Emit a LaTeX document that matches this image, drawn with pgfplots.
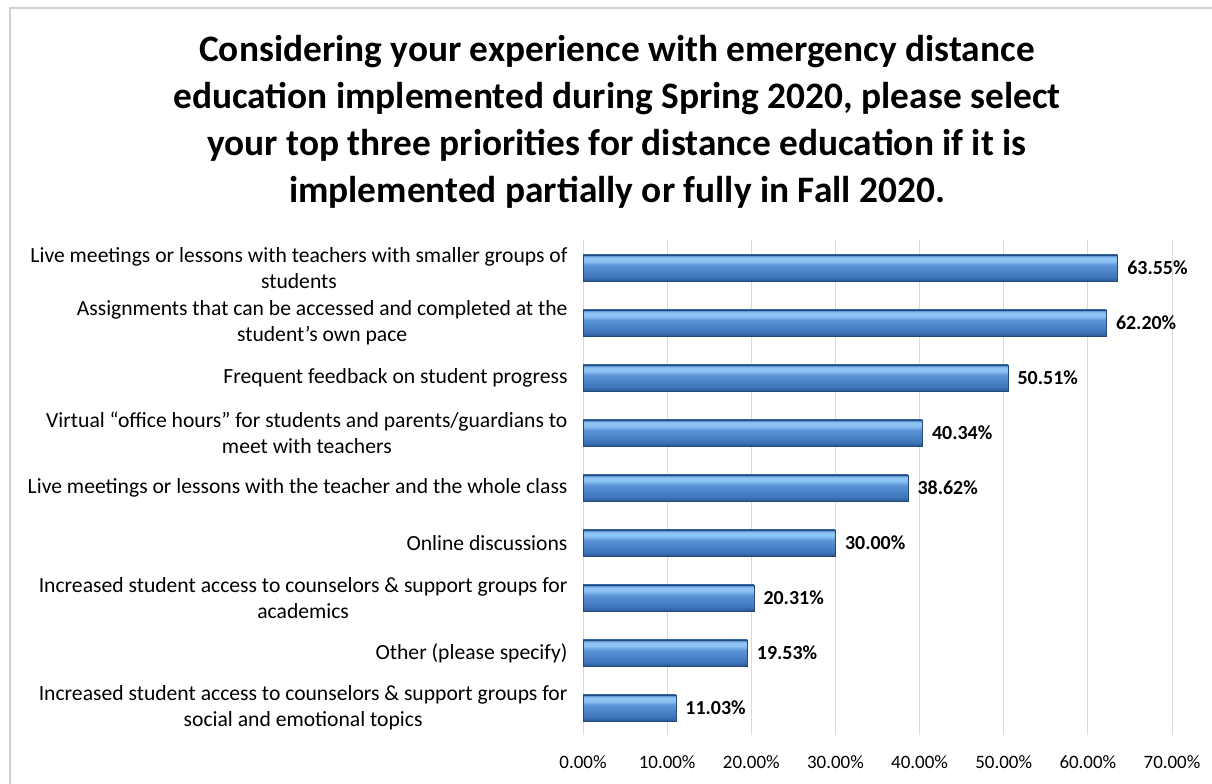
\documentclass[border=0pt]{standalone}
\usepackage{pgfplots}
\pgfplotsset{compat=1.18}
\usepackage{fontspec}
\setmainfont{Carlito}
\definecolor{gridgray}{HTML}{D9D9D9}
\definecolor{framegray}{HTML}{D0D0D0}
\definecolor{barbot}{HTML}{2A5790}
\definecolor{barmain}{HTML}{3D74BB}
\definecolor{barmaintwo}{HTML}{5A93D6}
\definecolor{barlight}{HTML}{8EC5F4}
\definecolor{bartop}{HTML}{4B80C2}
% bottom to top; the bar's box is mapped onto 25bp..75bp
\pgfdeclareverticalshading{barshade}{100bp}{color(0bp)=(barbot); color(25bp)=(barbot);
  color(32bp)=(barmain); color(55bp)=(barmaintwo); color(64bp)=(barlight);
  color(70bp)=(barlight); color(75bp)=(bartop); color(100bp)=(bartop)}
\pgfplotsset{cyl/.style={xbar, bar width=26bp, bar shift=0pt, draw=barbot!85!black,
  line width=0.6bp, shade, shading=barshade}}
\begin{document}
\begin{tikzpicture}[x=1bp,y=1bp]
  \path[use as bounding box] (0,0) rectangle (1212,784);
  \draw[framegray, line width=1.2bp] (10,0) -- (10,776) -- (1212,776);
  \node[align=center, font=\fontsize{37.5}{47}\selectfont\bfseries] at (617,662)
    {Considering your experience with emergency distance\\
     education implemented during Spring 2020, please select\\
     your top three priorities for distance education if it is\\
     implemented partially or fully in Fall 2020.};
  \begin{axis}[
      at={(583bp,48.5bp)}, anchor=south west,
      scale only axis, width=589bp, height=495bp,
      xmin=0, xmax=70, ymin=-0.5, ymax=8.5,
      axis line style={draw=none},
      xtick={0,10,...,70}, ytick={0,...,8},
      major tick length=0pt,
      xmajorgrids, major grid style={gridgray, line width=1bp},
      /pgf/number format/assume math mode=true,
      xticklabel={\pgfmathprintnumber[fixed,fixed zerofill,precision=2]{\tick}\%},
      xticklabel style={font=\fontsize{19}{22}\selectfont, yshift=-17bp},
      yticklabels={
        {Increased student access to counselors \& support groups for\\social and emotional topics},
        {Other (please specify)},
        {Increased student access to counselors \& support groups for\\academics},
        {Online discussions},
        {Live meetings or lessons with the teacher and the whole class},
        {Virtual “office hours” for students and parents/guardians to\\meet with teachers},
        {Frequent feedback on student progress},
        {Assignments that can be accessed and completed at the\\student's own pace},
        {Live meetings or lessons with teachers with smaller groups of\\students}},
      yticklabel style={align=center, font=\fontsize{21.7}{26}\selectfont, xshift=-12bp},
      nodes near coords={\pgfmathprintnumber[fixed,fixed zerofill,precision=2]{\pgfplotspointmeta}\%},
      point meta=x,
      nodes near coords style={font=\fontsize{20}{24}\selectfont\bfseries, anchor=west, xshift=6bp},
    ]
    \addplot[cyl] coordinates {(63.55,8)};
    \addplot[cyl] coordinates {(62.20,7)};
    \addplot[cyl] coordinates {(50.51,6)};
    \addplot[cyl] coordinates {(40.34,5)};
    \addplot[cyl] coordinates {(38.62,4)};
    \addplot[cyl] coordinates {(30.00,3)};
    \addplot[cyl] coordinates {(20.31,2)};
    \addplot[cyl] coordinates {(19.53,1)};
    \addplot[cyl] coordinates {(11.03,0)};
  \end{axis}
\end{tikzpicture}
\end{document}
